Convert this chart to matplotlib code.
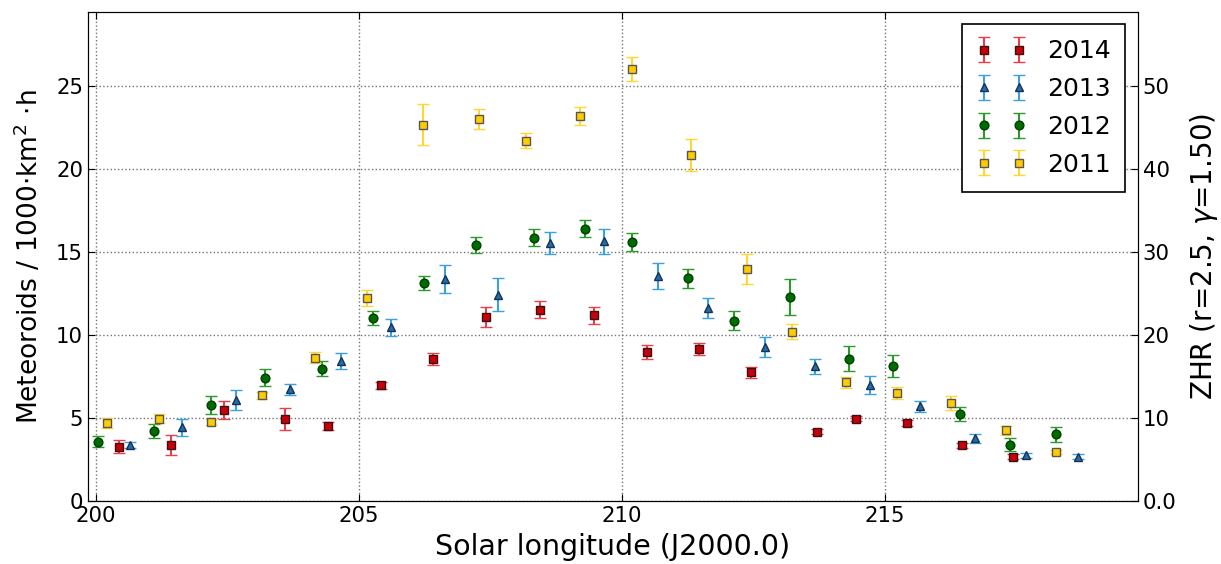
import numpy as np
import matplotlib
matplotlib.use("Agg")
import matplotlib.pyplot as plt

# solar longitude, rate, error for each year
x2014 = [200.44, 201.43, 202.43, 203.59, 204.42, 205.42, 206.41, 207.43, 208.45, 209.48,
         210.48, 211.47, 212.47, 213.71, 214.46, 215.43, 216.48, 217.45]
y2014 = [3.27, 3.37, 5.48, 4.94, 4.5, 6.95, 8.53, 11.1, 11.52, 11.17,
         8.96, 9.16, 7.75, 4.16, 4.94, 4.68, 3.36, 2.67]
e2014 = [0.37, 0.62, 0.53, 0.66, 0.25, 0.2, 0.35, 0.6, 0.53, 0.53,
         0.4, 0.35, 0.32, 0.15, 0.15, 0.2, 0.15, 0.15]

x2013 = [200.65, 201.63, 202.66, 203.69, 204.67, 205.62, 206.65, 207.65, 208.64, 209.67,
         210.7, 211.65, 212.73, 213.68, 214.73, 215.67, 216.72, 217.69, 218.68]
y2013 = [3.37, 4.42, 6.08, 6.71, 8.43, 10.46, 13.35, 12.41, 15.52, 15.64,
         13.55, 11.6, 9.26, 8.11, 6.97, 5.7, 3.78, 2.75, 2.67]
e2013 = [0.2, 0.5, 0.62, 0.34, 0.5, 0.52, 0.85, 1.0, 0.67, 0.76,
         0.79, 0.59, 0.61, 0.45, 0.56, 0.32, 0.27, 0.15, 0.15]

x2012 = [200.04, 201.10, 202.2, 203.22, 204.31, 205.27, 206.24, 207.23, 208.34, 209.3,
         210.2, 211.27, 212.13, 213.21, 214.32, 215.17, 216.43, 217.39, 218.27]
y2012 = [3.57, 4.2, 5.78, 7.43, 7.97, 11.02, 13.15, 15.42, 15.86, 16.4,
         15.6, 13.41, 10.86, 12.27, 8.57, 8.13, 5.24, 3.39, 4.02]
e2012 = [0.32, 0.44, 0.53, 0.52, 0.44, 0.4, 0.42, 0.48, 0.49, 0.49,
         0.55, 0.58, 0.59, 1.07, 0.75, 0.66, 0.44, 0.37, 0.45]

x2011 = [200.22, 201.21, 202.19, 203.17, 204.17, 205.16, 206.22, 207.29, 208.18, 209.2,
         210.2, 211.31, 212.38, 213.24, 214.26, 215.24, 216.27, 217.31, 218.26]
y2011 = [4.68, 4.94, 4.76, 6.35, 8.61, 12.23, 22.65, 23.01, 21.7, 23.19,
         26.0, 20.82, 13.98, 10.2, 7.15, 6.51, 5.9, 4.24, 2.93]
e2011 = [0.32, 0.28, 0.2, 0.2, 0.33, 0.48, 1.23, 0.62, 0.44, 0.53,
         0.71, 0.97, 0.89, 0.48, 0.34, 0.35, 0.4, 0.27, 0.12]

zhr_ticks = [0, 10, 20, 30, 40, 50]
zhr_labels = ["0.0", "10", "20", "30", "40", "50"]

fig = plt.figure(figsize=(12.21, 5.64), dpi=100)
ax = fig.add_axes([0.072, 0.112, 0.86, 0.867])

series = [
    (x2014, y2014, e2014, "2014", "s", "#c8000a", "#e8404a", "#3a1010"),
    (x2013, y2013, e2013, "2013", "^", "#1f6fb0", "#3aa0e0", "#1a3050"),
    (x2012, y2012, e2012, "2012", "o", "#006b00", "#2a9a2a", "#004000"),
    (x2011, y2011, e2011, "2011", "s", "#ffcc00", "#ffd633", "#555555"),
]
for xs, ys, es, lab, mk, fc, ec, edge in series:
    ax.errorbar(xs, ys, yerr=es, fmt=mk, color=ec, mfc=fc, mec=edge,
                ms=5.8 if mk != "o" else 6.3, mew=1, capsize=4, elinewidth=1.5,
                capthick=1.5, label=lab)

ax.set_xlim(199.85, 219.82)
ax.set_ylim(0, 29.46)
ax.set_xticks([200, 205, 210, 215])
ax.set_yticks([0, 5, 10, 15, 20, 25])
ax.grid(True, color="0.45", linestyle=":", linewidth=1)
ax.tick_params(direction="in", labelsize=15.3, top=True, length=5)
ax.set_xlabel("Solar longitude (J2000.0)", fontsize=20.5, labelpad=5)
ax.set_ylabel(r"Meteoroids / 1000$\cdot$km$^2$ $\cdot$h", fontsize=19, labelpad=9)

ax2 = ax.twinx()
ax2.set_ylim(0, 2 * 29.46)
ax2.set_yticks(zhr_ticks)
ax2.set_yticklabels(zhr_labels)
ax2.tick_params(direction="in", labelsize=15.3, length=5)
ax2.set_ylabel(r"ZHR (r=2.5, $\gamma$=1.50)", fontsize=20, labelpad=8)

leg = ax.legend(loc="upper right", numpoints=2, fontsize=18, fancybox=False,
                framealpha=1, edgecolor="black", borderpad=0.6,
                handletextpad=0.8, labelspacing=0.55)
leg.get_frame().set_linewidth(1.2)

fig.savefig("out.png", dpi=100)
